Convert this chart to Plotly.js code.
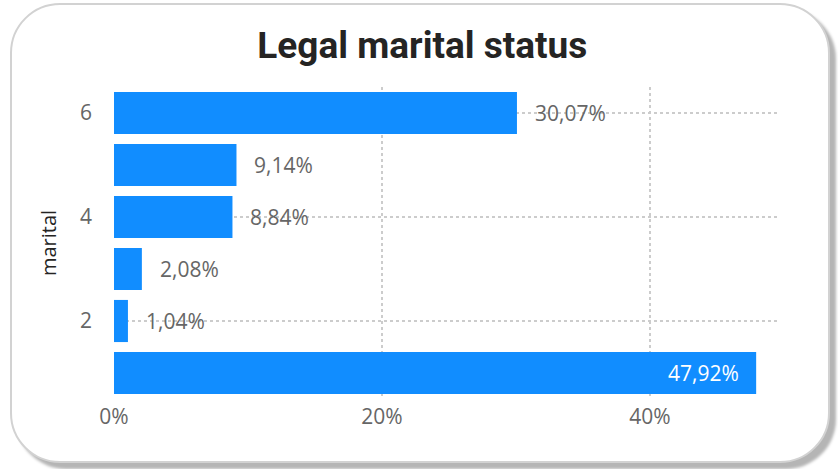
<!DOCTYPE html>
<html><head><meta charset="utf-8">
<script src="https://cdn.plot.ly/plotly-3.0.1.min.js"></script>
<style>
html,body{margin:0;padding:0;background:#fff;width:838px;height:469px;overflow:hidden;}
#card{position:absolute;left:10px;top:3px;width:816px;height:456px;border:2px solid #d2d2d2;border-radius:50px;box-shadow:6px 6px 3px #b5b5b5;background:#fff;}
#chart{position:absolute;left:0;top:0;width:838px;height:469px;}
</style></head><body>
<div id="card"></div>
<div id="chart"></div>
<script>
const categories = [1, 2, 3, 4, 5, 6];
const percentages = [47.92, 1.04, 2.08, 8.84, 9.14, 30.07];
const xTickVals = [0, 20, 40];
const xTickText = ['0%', '20%', '40%'];
const yTickVals = [2, 4, 6];

const labels = percentages.map(v => v.toFixed(2).replace('.', ',') + '%');
const labelFont = 'Open Sans, sans-serif';

const trace = {
  type: 'bar',
  orientation: 'h',
  x: percentages,
  y: categories,
  marker: {color: '#118DFF'},
  hoverinfo: 'none'
};

const annotations = percentages.map((v, i) => {
  const inside = v > 40;
  return {
    x: v, y: categories[i], xref: 'x', yref: 'y',
    text: labels[i], showarrow: false,
    xanchor: inside ? 'right' : 'left',
    xshift: inside ? -15 : 16,
    font: {family: labelFont, size: 21, color: inside ? '#ffffff' : '#666666'}
  };
});

const layout = {
  width: 838, height: 469,
  paper_bgcolor: 'rgba(0,0,0,0)',
  plot_bgcolor: 'rgba(0,0,0,0)',
  margin: {l: 114, r: 60, t: 87, b: 70},
  bargap: 0.19,
  showlegend: false,
  annotations: annotations,
  title: {
    text: 'Legal marital status',
    font: {family: 'Roboto, sans-serif', size: 37, weight: 700, color: '#252423'},
    x: 0.504, xanchor: 'center', y: 0.905, yanchor: 'middle'
  },
  xaxis: {
    range: [0, 49.55],
    tickmode: 'array',
    tickvals: xTickVals,
    ticktext: xTickText,
    tickfont: {family: labelFont, size: 21, color: '#666666'},
    showgrid: true, gridcolor: '#cccccc', griddash: 'dot', gridwidth: 1.5,
    zeroline: false, showline: false, ticks: '',
    ticklabelstandoff: 3
  },
  yaxis: {
    range: [0.5, 6.5],
    tickmode: 'array',
    tickvals: yTickVals,
    tickfont: {family: labelFont, size: 21, color: '#666666'},
    showgrid: true, gridcolor: '#cccccc', griddash: 'dot', gridwidth: 1.5,
    zeroline: false, showline: false, ticks: '',
    ticklabelstandoff: 21,
    title: {text: 'marital', font: {family: labelFont, size: 20, color: '#252423'}, standoff: 17}
  }
};

Plotly.newPlot('chart', [trace], layout, {displayModeBar: false, staticPlot: true});
</script>
</body></html>
